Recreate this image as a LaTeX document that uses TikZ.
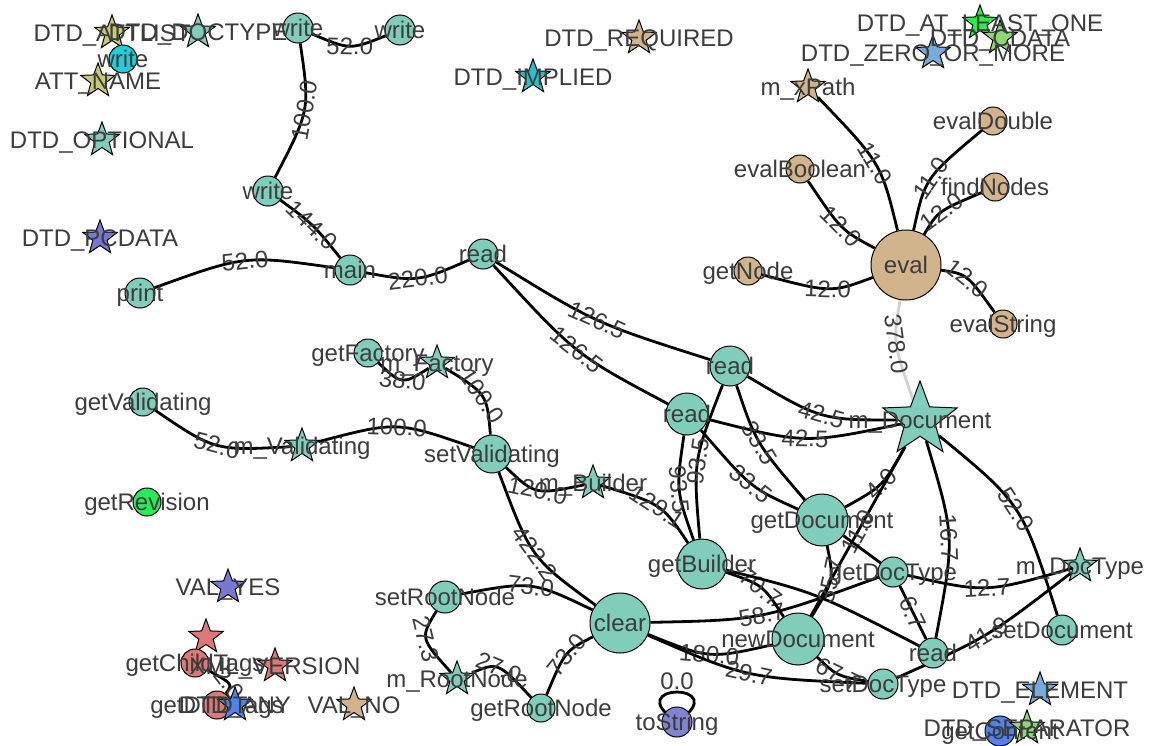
\documentclass[tikz,border=0pt]{standalone}
\usepackage{fontspec}
\setmainfont{Liberation Sans}
\usetikzlibrary{shapes.geometric}
\pgfdeclarelayer{back}
\pgfdeclarelayer{bg}
\pgfsetlayers{back,bg,main}
\definecolor{teal}{RGB}{128,205,187}
\definecolor{tan}{RGB}{210,180,140}
\definecolor{khaki}{RGB}{200,200,120}
\definecolor{cyanw}{RGB}{35,205,215}
\definecolor{purp}{RGB}{120,120,210}
\definecolor{implied}{RGB}{45,190,200}
\definecolor{brgreen}{RGB}{40,240,70}
\definecolor{ltgreen}{RGB}{140,215,120}
\definecolor{ltblue}{RGB}{120,170,220}
\definecolor{grn}{RGB}{40,235,90}
\definecolor{redc}{RGB}{220,120,120}
\definecolor{blu}{RGB}{80,130,240}
\definecolor{tostr}{RGB}{130,130,215}
\definecolor{txt}{RGB}{60,60,60}
\tikzset{
  vc/.style={circle, draw=black, line width=1pt, inner sep=0pt, minimum size=#1},
  vc/.default=30pt,
  vs/.style={star, star points=5, star point ratio=2.4, draw=black, line width=1pt, inner sep=0pt, minimum size=#1},
  vs/.default=36pt,
  lab/.style={text=txt, font=\fontsize{24}{28}\selectfont, inner sep=0pt, text height=17pt, text depth=0pt},
  ed/.style={draw=black, line width=2.8pt},
  ged/.style={draw=black!18, line width=2.8pt},
  elab/.style={lab, sloped, pos=0.5},
}
\begin{document}
\begin{tikzpicture}[x=1pt,y=-1pt]
\useasboundingbox (0,0) rectangle (1154,745);
\begin{pgfonlayer}{back}
\fill[white] (0,0) rectangle (1154,745);
\end{pgfonlayer}
% ---------- vertices ----------
\node[vs,fill=khaki] (attlist) at (112,33) {};
\node[vs,fill=teal] (doctype) at (198,32) {};
\node[vc=28pt,fill=cyanw] (writeC) at (123,59) {};
\node[vs,fill=khaki] (attname) at (98,81) {};
\node[vs,fill=teal] (optional) at (102,140) {};
\node[vs,fill=purp] (pcdata) at (100,238) {};
\node[vc,fill=teal] (w1) at (298,28) {};
\node[vc,fill=teal] (w2) at (400,30) {};
\node[vc,fill=teal] (w3) at (268,191) {};
\node[vc,fill=teal] (main) at (350,270) {};
\node[vc,fill=teal] (print) at (140,293) {};
\node[vc,fill=teal] (readT) at (483,254) {};
\node[vs,fill=tan] (required) at (639,38) {};
\node[vs,fill=implied] (implied) at (533,77) {};
\node[vs,fill=brgreen] (atleast) at (980,23) {};
\node[vs,fill=ltgreen] (cdata) at (1000,38) {};
\node[vs,fill=ltblue] (zero) at (933,53) {};
\node[vs,fill=tan] (mxpath) at (808,87) {};
\node[vc=28pt,fill=tan] (evalDouble) at (993,121) {};
\node[vc=28pt,fill=tan] (evalBoolean) at (800,169) {};
\node[vc=28pt,fill=tan] (findNodes) at (995,187) {};
\node[vc=70pt,fill=tan] (eval) at (906,265) {};
\node[vc=28pt,fill=tan] (getNode) at (748,271) {};
\node[vc=28pt,fill=tan] (evalString) at (1003,324) {};
\node[vc=40pt,fill=teal] (readA) at (730,366) {};
\node[vc=42pt,fill=teal] (readB) at (687,414) {};
\node[vs=78pt,fill=teal] (mDoc) at (920,420) {};
\node[vc=28pt,fill=teal] (getFactory) at (368,353) {};
\node[vs,fill=teal] (mFactory) at (437,363) {};
\node[vc=28pt,fill=teal] (getValidating) at (143,402) {};
\node[vs,fill=teal] (mValidating) at (302,446) {};
\node[vc=38pt,fill=teal] (setValidating) at (492,454) {};
\node[vc=28pt,fill=grn] (getRevision) at (147,502) {};
\node[vs,fill=teal] (mBuilder) at (593,483) {};
\node[vc=50pt,fill=teal] (getBuilder) at (702,564) {};
\node[vc=52pt,fill=teal] (getDocument) at (822,520) {};
\node[vc=60pt,fill=teal] (clear) at (620,623) {};
\node[vc=32pt,fill=teal] (setRootNode) at (445,597) {};
\node[vs,fill=teal] (mRootNode) at (457,679) {};
\node[vc=28pt,fill=teal] (getRootNode) at (541,708) {};
\node[vc,fill=tostr] (toString) at (677,722) {};
\node[vc=52pt,fill=teal] (newDocument) at (798,639) {};
\node[vc,fill=teal] (getDocType) at (893,572) {};
\node[vs,fill=teal] (mDocType) at (1080,566) {};
\node[vc,fill=teal] (setDocument) at (1062,630) {};
\node[vc,fill=teal] (readC) at (933,653) {};
\node[vc,fill=teal] (setDocType) at (883,684) {};
\node[vs,fill=ltblue] (element) at (1040,690) {};
\node[vc,fill=blu] (getContent) at (1000,731) {};
\node[vs,fill=ltgreen] (separator) at (1027,728) {};
\node[vs,fill=purp] (valyes) at (228,587) {};
\node[vs,fill=redc] (redstar) at (206,637) {};
\node[vc=28pt,fill=redc] (getChildTags) at (195,663) {};
\node[vs,fill=redc] (xmlversion) at (275,666) {};
\node[vc=28pt,fill=redc] (getDTDTags) at (217,705) {};
\node[vs,fill=blu] (dtdany) at (235,705) {};
\node[vs,fill=tan] (valno) at (354,705) {};
% ---------- vertex labels ----------
\node[lab] at (attlist) {DTD\_ATTLIST};
\node[lab] at (doctype) {DTD\_DOCTYPE};
\node[lab] at (writeC) {write};
\node[lab] at (attname) {ATT\_NAME};
\node[lab] at (optional) {DTD\_OPTIONAL};
\node[lab] at (pcdata) {DTD\_PCDATA};
\node[lab] at (w1) {write};
\node[lab] at (w2) {write};
\node[lab] at (w3) {write};
\node[lab] at (main) {main};
\node[lab] at (print) {print};
\node[lab] at (readT) {read};
\node[lab] at (required) {DTD\_REQUIRED};
\node[lab] at (implied) {DTD\_IMPLIED};
\node[lab] at (atleast) {DTD\_AT\_LEAST\_ONE};
\node[lab] at (cdata) {DTD\_CDATA};
\node[lab] at (zero) {DTD\_ZERO\_OR\_MORE};
\node[lab] at (mxpath) {m\_xPath};
\node[lab] at (evalDouble) {evalDouble};
\node[lab] at (evalBoolean) {evalBoolean};
\node[lab] at (findNodes) {findNodes};
\node[lab] at (eval) {eval};
\node[lab] at (getNode) {getNode};
\node[lab] at (evalString) {evalString};
\node[lab] at (readA) {read};
\node[lab] at (readB) {read};
\node[lab] at (mDoc) {m\_Document};
\node[lab] at (getFactory) {getFactory};
\node[lab] at (mFactory) {m\_Factory};
\node[lab] at (getValidating) {getValidating};
\node[lab] at (mValidating) {m\_Validating};
\node[lab] at (setValidating) {setValidating};
\node[lab] at (getRevision) {getRevision};
\node[lab] at (mBuilder) {m\_Builder};
\node[lab] at (getBuilder) {getBuilder};
\node[lab] at (getDocument) {getDocument};
\node[lab] at (clear) {clear};
\node[lab] at (setRootNode) {setRootNode};
\node[lab] at (mRootNode) {m\_RootNode};
\node[lab] at (getRootNode) {getRootNode};
\node[lab] at (toString) {toString};
\node[lab] at (newDocument) {newDocument};
\node[lab] at (getDocType) {getDocType};
\node[lab] at (mDocType) {m\_DocType};
\node[lab] at (setDocument) {setDocument};
\node[lab] at (readC) {read};
\node[lab] at (setDocType) {setDocType};
\node[lab] at (element) {DTD\_ELEMENT};
\node[lab] at (getContent) {getContent};
\node[lab] at (separator) {DTD\_SEPARATOR};
\node[lab] at (valyes) {VAL\_YES};
\node[lab] at (getChildTags) {getChildTags};
\node[lab] at (xmlversion) {XML\_VERSION};
\node[lab] at (getDTDTags) {getDTDTags};
\node[lab] at (dtdany) {DTD\_ANY};
\node[lab] at (valno) {VAL\_NO};
% ---------- edges ----------
\begin{pgfonlayer}{bg}
\draw[ed] (w1) .. controls (350,50) .. (w2) node[elab]{52.0};
\draw[ed] (w1) .. controls (310,110) .. (w3) node[elab]{100.0};
\draw[ed] (w3) .. controls (313,224) .. (main) node[elab]{144.0};
\draw[ed] (print) .. controls (245,255) .. (main) node[elab]{52.0};
\draw[ed] (main) .. controls (418,282) .. (readT) node[elab]{220.0};
\draw[ed] (readT) .. controls (595,323) .. (readA) node[elab]{126.5};
\draw[ed] (readT) .. controls (576,355) .. (readB) node[elab]{126.5};
\draw[ed] (readA) .. controls (821,420) .. (mDoc) node[elab]{42.5};
\draw[ed] (readB) .. controls (805,444) .. (mDoc) node[elab]{42.5};
\draw[ed] (readA) .. controls (756,443) .. (getDocument) node[elab]{33.5};
\draw[ed] (readB) .. controls (751,488) .. (getDocument) node[elab]{33.5};
\draw[ed] (readA) .. controls (693,461) .. (getBuilder) node[elab]{93.5};
\draw[ed] (readB) .. controls (676,490) .. (getBuilder) node[elab]{93.5};
\draw[ed] (getDocument) .. controls (883,486) .. (mDoc) node[elab]{4.0};
\draw[ed] (mDoc) -- (newDocument) node[elab]{11.0};
\draw[ed] (mDoc) .. controls (955,537) .. (readC) node[elab]{16.7};
\draw[ed] (mDoc) .. controls (1022,504) .. (setDocument) node[elab]{52.0};
\draw[ged] (eval) .. controls (893,342) .. (mDoc) node[elab]{378.0};
\draw[ed] (mxpath) .. controls (881,163) .. (eval) node[elab]{11.0};
\draw[ed] (evalBoolean) .. controls (841,230) .. (eval) node[elab]{12.0};
\draw[ed] (getNode) .. controls (831,293) .. (eval) node[elab]{12.0};
\draw[ed] (evalDouble) .. controls (925,178) .. (eval) node[elab]{11.0};
\draw[ed] (findNodes) .. controls (938,211) .. (eval) node[elab]{12.0};
\draw[ed] (evalString) .. controls (967,274) .. (eval) node[elab]{12.0};
\draw[ed] (getFactory) .. controls (402,385) .. (mFactory) node[elab]{38.0};
\draw[ed] (mFactory) .. controls (487,394) .. (setValidating) node[elab]{100.0};
\draw[ed] (getValidating) .. controls (215,451) .. (mValidating) node[elab]{52.0};
\draw[ed] (mValidating) .. controls (397,421) .. (setValidating) node[elab]{100.0};
\draw[ed] (setValidating) .. controls (535,495) .. (mBuilder) node[elab]{120.0};
\draw[ed] (mBuilder) .. controls (662,504) .. (getBuilder) node[elab]{129.1};
\draw[ed] (setValidating) .. controls (531,558) .. (clear) node[elab]{422.2};
\draw[ed] (setRootNode) .. controls (532,581) .. (clear) node[elab]{73.0};
\draw[ed] (setRootNode) .. controls (420,638) .. (mRootNode) node[elab]{27.3};
\draw[ed] (mRootNode) .. controls (498,662) .. (getRootNode) node[elab]{27.0};
\draw[ed] (getRootNode) .. controls (565,651) .. (clear) node[elab]{73.0};
\draw[ed] (clear) .. controls (761,620) .. (getDocType) node[elab]{58.7};
\draw[ed] (clear) .. controls (709,659) .. (newDocument) node[elab]{180.0};
\draw[ed] (clear) .. controls (746,678) .. (setDocType) node[elab]{29.7};
\draw[ed] (getBuilder) .. controls (763,585) .. (newDocument) node[elab]{70.7};
\draw[ed] (getBuilder) .. controls (817,593) .. (readC);
\draw[ed] (getDocument) .. controls (834,580) .. (newDocument) node[elab]{35.7};
\draw[ed] (getDocument) -- (getDocType);
\draw[ed] (getDocType) -- (readC) node[elab]{6.7};
\draw[ed] (getDocType) .. controls (986,593) .. (mDocType) node[elab]{12.7};
\draw[ed] (newDocument) .. controls (837,676) .. (setDocType) node[elab]{67.7};
\draw[ed] (setDocType) .. controls (988,637) .. (mDocType) node[elab]{41.9};
\draw[ed] (getChildTags) .. controls (233,684) .. (getDTDTags) node[elab]{2.0};
\draw[ed] (toString.center) .. controls +(-60,-40) and +(60,-40) .. (toString.center) node[pos=0.5, above=1pt, lab]{0.0};
\end{pgfonlayer}
\end{tikzpicture}
\end{document}
